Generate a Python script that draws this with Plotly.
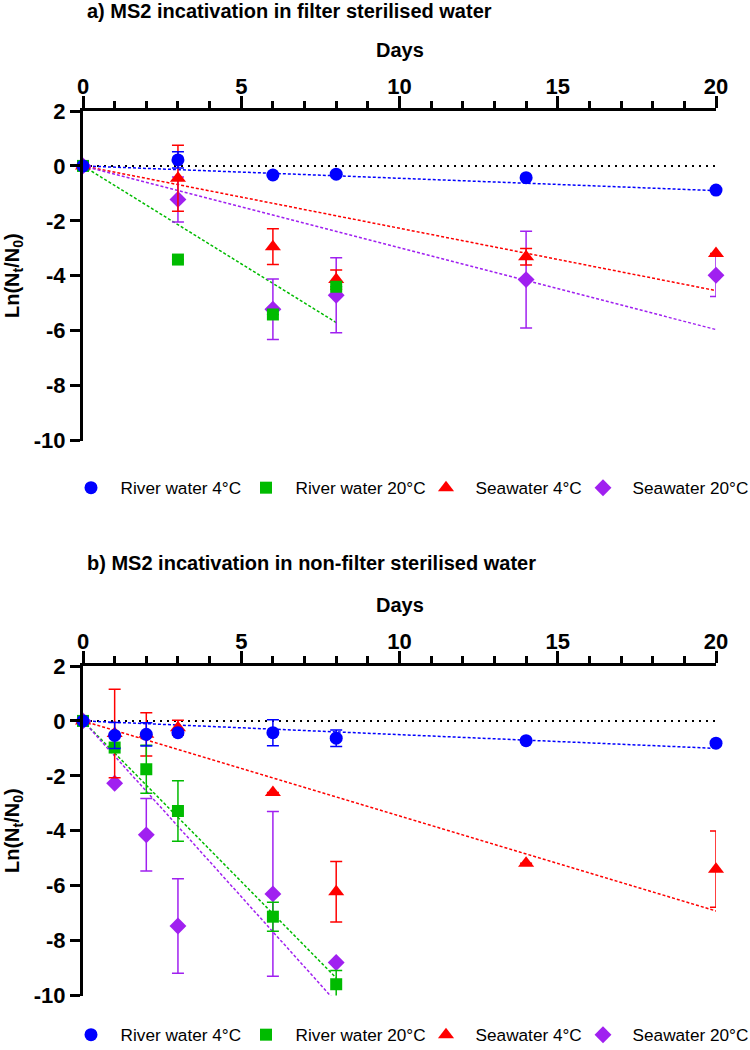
import plotly.graph_objects as go

# ---------------- data ----------------
series_names = ["River water 4°C", "River water 20°C", "Seawater 4°C", "Seawater 20°C"]
series_colors = ["#0000FF", "#00BB00", "#FF0000", "#A020F0"]
series_symbols = ["circle", "square", "triangle-up", "diamond"]
series_sizes = [13, 12, 14, 13]

# Panel a: filter sterilised water
days_a_river4 = [0, 3, 6, 8, 14, 20]
river4_a = [0, 0.22, -0.33, -0.30, -0.43, -0.88]
river4_a_err = [None, 0.3, None, None, None, None]

days_a_river20 = [0, 3, 6, 8]
river20_a = [0, -3.41, -5.41, -4.40]
river20_a_err = [None, None, None, None]

days_a_sea4 = [0, 3, 6, 8, 14, 20]
sea4_a = [0, -0.45, -2.94, -4.14, -3.31, -3.19]
sea4_a_err = [None, 1.2, 0.65, 0.35, 0.3, None]

days_a_sea20 = [0, 3, 6, 8, 14, 20]
sea20_a = [0, -1.22, -5.22, -4.71, -4.14, -3.98]
sea20_a_err = [None, 0.82, 1.1, 1.37, 1.76, 0.78]

fit_slope_a = [-0.045, -0.713, -0.227, -0.298]
fit_end_a = [20, 8, 20, 20]

# Panel b: non-filter sterilised water
days_b_river4 = [0, 1, 2, 3, 6, 8, 14, 20]
river4_b = [0, -0.53, -0.49, -0.43, -0.43, -0.63, -0.72, -0.81]
river4_b_err = [None, 0.47, 0.42, None, 0.47, 0.30, None, None]

days_b_river20 = [0, 1, 2, 3, 6, 8]
river20_b = [0, -0.97, -1.76, -3.28, -7.13, -9.59]
river20_b_err = [None, None, 0.87, 1.1, 0.53, 0.5]

days_b_sea4 = [0, 1, 2, 3, 6, 8, 14, 20]
sea4_b = [0, -0.46, -0.49, -0.25, -2.61, -6.22, -5.18, -5.40]
sea4_b_err = [None, 1.61, 0.79, 0.27, None, 1.1, None, 1.39]

days_b_sea20 = [0, 1, 2, 3, 6, 8]
sea20_b = [0, -2.27, -4.15, -7.47, -6.30, -8.80]
sea20_b_err = [None, None, 1.32, 1.72, 3.0, None]

fit_slope_b = [-0.05, -1.17, -0.346, -1.28]
fit_end_b = [20, 8, 20, 8]

x_ticks = [0, 5, 10, 15, 20]
y_ticks = [2, 0, -2, -4, -6, -8, -10]

titles = ["a) MS2 incativation in filter sterilised water",
          "b) MS2 incativation in non-filter sterilised water"]

# ---------------- figure ----------------
W, H = 750, 1050
FONT = "Liberation Sans"
X0, X1 = 83, 716          # plot area left / right (px)

def px_x(p):
    return p / W

def px_y(p):
    return 1 - p / H

legend_widths = [130, 135, 112, 130]   # legend entry text-area widths (px)

fig = go.Figure()

panels = [
    dict(xa="x", ya="y", legend="legend",
         data=[(days_a_river4, river4_a, river4_a_err),
               (days_a_river20, river20_a, river20_a_err),
               (days_a_sea4, sea4_a, sea4_a_err),
               (days_a_sea20, sea20_a, sea20_a_err)],
         slopes=fit_slope_a, ends=fit_end_a),
    dict(xa="x2", ya="y2", legend="legend2",
         data=[(days_b_river4, river4_b, river4_b_err),
               (days_b_river20, river20_b, river20_b_err),
               (days_b_sea4, sea4_b, sea4_b_err),
               (days_b_sea20, sea20_b, sea20_b_err)],
         slopes=fit_slope_b, ends=fit_end_b),
]

draw_order = [3, 2, 1, 0]  # purple, red, green, blue (blue on top)

for p in panels:
    fig.add_trace(go.Scatter(x=[0, 20], y=[0, 0], mode="lines", xaxis=p["xa"], yaxis=p["ya"],
                             line=dict(color="black", width=2, dash="2px,5px"),
                             showlegend=False, hoverinfo="skip"))
    for i in range(4):
        xe = p["ends"][i]
        fig.add_trace(go.Scatter(x=[0, xe], y=[0, p["slopes"][i] * xe], mode="lines",
                                 xaxis=p["xa"], yaxis=p["ya"],
                                 line=dict(color=series_colors[i], width=1.5, dash="3px,2px"),
                                 showlegend=False, hoverinfo="skip"))
    for i in draw_order:
        xs, ys, es = p["data"][i]
        fig.add_trace(go.Scatter(
            x=xs, y=ys, mode="markers", name="\u00a0\u00a0" + series_names[i],
            xaxis=p["xa"], yaxis=p["ya"], legend=p["legend"], legendrank=i + 1,
            legendwidth=legend_widths[i],
            marker=dict(color=series_colors[i], symbol=series_symbols[i], size=series_sizes[i],
                        line=dict(width=0)),
            error_y=dict(type="data", array=es, visible=True, color=series_colors[i],
                         thickness=1.5, width=6),
            cliponaxis=False))

xaxis_common = dict(range=[0, 20], side="top", showgrid=False, zeroline=False,
                    showline=True, linecolor="black", linewidth=3,
                    tickmode="array", tickvals=x_ticks, ticktext=[str(v) for v in x_ticks],
                    ticks="outside", ticklen=12, tickwidth=3, tickcolor="black",
                    ticklabelstandoff=-7,
                    minor=dict(dtick=1, tick0=0, ticks="outside", ticklen=7, tickwidth=3,
                               tickcolor="black"),
                    tickfont=dict(family=FONT, size=22, color="black", weight="bold"),
                    automargin=False, fixedrange=True,
                    domain=[X0 / W, X1 / W])
yaxis_common = dict(range=[-10, 2], showgrid=False, zeroline=False,
                    showline=True, linecolor="black", linewidth=3,
                    tickmode="array", tickvals=y_ticks, ticktext=[str(v) for v in y_ticks],
                    ticks="outside", ticklen=10, tickwidth=3, tickcolor="black",
                    tickfont=dict(family=FONT, size=22, color="black", weight="bold"),
                    automargin=False, fixedrange=True)

leg_common = dict(orientation="h", x=px_x(71), xanchor="left", yanchor="middle",
                  font=dict(family=FONT, size=17.2, color="black"),
                  bgcolor="rgba(0,0,0,0)", borderwidth=0)

fig.update_layout(
    width=W, height=H,
    margin=dict(l=0, r=0, t=0, b=0, pad=0, autoexpand=False),
    paper_bgcolor="white", plot_bgcolor="white",
    xaxis=dict(**xaxis_common, anchor="y"),
    yaxis=dict(**yaxis_common, domain=[px_y(440.5), px_y(111)], anchor="x"),
    xaxis2=dict(**xaxis_common, anchor="y2"),
    yaxis2=dict(**yaxis_common, domain=[px_y(995.5), px_y(666)], anchor="x2"),
    legend=dict(**leg_common, y=px_y(488)),
    legend2=dict(**leg_common, y=px_y(1035)),
    showlegend=True,
)

annots = []
for t, ty, dy, yc in [(titles[0], 11, 50, 276), (titles[1], 563, 605, 831)]:
    annots.append(dict(text=t, xref="paper", yref="paper", x=px_x(85), y=px_y(ty),
                       xanchor="left", yanchor="middle", showarrow=False,
                       font=dict(family=FONT, size=20, color="black", weight="bold")))
    annots.append(dict(text="Days", xref="paper", yref="paper", x=px_x(400), y=px_y(dy),
                       xanchor="center", yanchor="middle", showarrow=False,
                       font=dict(family=FONT, size=20, color="black", weight="bold")))
    annots.append(dict(text="Ln(N<sub>t</sub>/N<sub>0</sub>)", xref="paper", yref="paper",
                       x=px_x(13), y=px_y(yc), xanchor="center", yanchor="middle",
                       textangle=-90, showarrow=False,
                       font=dict(family=FONT, size=20, color="black", weight="bold")))
fig.update_layout(annotations=annots)

fig.write_html("out.html",
               config={"displayModeBar": False},
               post_script="document.body.style.margin='0';document.body.style.overflow='hidden';")
